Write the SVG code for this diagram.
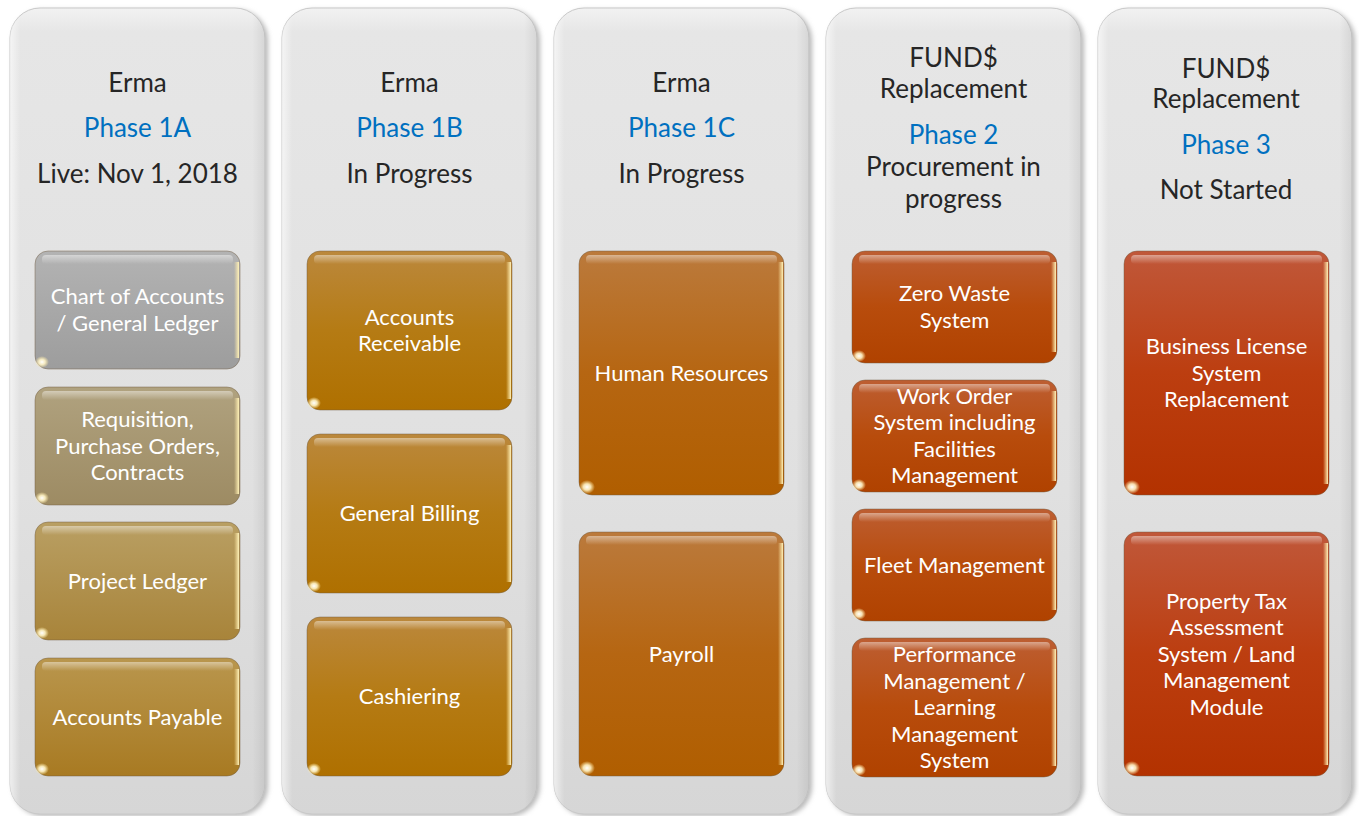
<svg xmlns="http://www.w3.org/2000/svg" width="1359" height="816" viewBox="0 0 1359 816">
<defs>
  <linearGradient id="panelG" x1="0" y1="0" x2="0" y2="1">
    <stop offset="0" stop-color="#f2f2f2"/>
    <stop offset="0.03" stop-color="#e6e6e6"/>
    <stop offset="0.6" stop-color="#e0e0e0"/>
    <stop offset="1" stop-color="#d6d6d6"/>
  </linearGradient>
  <linearGradient id="panelEdge" x1="0" y1="0" x2="1" y2="0">
    <stop offset="0" stop-color="#ffffff" stop-opacity="0.6"/>
    <stop offset="0.04" stop-color="#ffffff" stop-opacity="0"/>
    <stop offset="0.95" stop-color="#000000" stop-opacity="0"/>
    <stop offset="1" stop-color="#000000" stop-opacity="0.07"/>
  </linearGradient>
  <filter id="sh" x="-10%" y="-5%" width="120%" height="110%">
    <feGaussianBlur stdDeviation="2.5"/>
  </filter>
  <linearGradient id="gGrey" x1="0" y1="0" x2="0" y2="1">
    <stop offset="0" stop-color="#b3b3b3"/><stop offset="1" stop-color="#9d9d9d"/>
  </linearGradient>
  <linearGradient id="gTan" x1="0" y1="0" x2="0" y2="1">
    <stop offset="0" stop-color="#b0a27f"/><stop offset="1" stop-color="#9d8b63"/>
  </linearGradient>
  <linearGradient id="gGold1" x1="0" y1="0" x2="0" y2="1">
    <stop offset="0" stop-color="#b99f63"/><stop offset="1" stop-color="#a8843a"/>
  </linearGradient>
  <linearGradient id="gGold2" x1="0" y1="0" x2="0" y2="1">
    <stop offset="0" stop-color="#b9964d"/><stop offset="1" stop-color="#a87a22"/>
  </linearGradient>
  <linearGradient id="gAmber" x1="0" y1="0" x2="0" y2="1">
    <stop offset="0" stop-color="#bb883c"/><stop offset="0.5" stop-color="#b57b14"/><stop offset="1" stop-color="#af7000"/>
  </linearGradient>
  <linearGradient id="gOrange" x1="0" y1="0" x2="0" y2="1">
    <stop offset="0" stop-color="#bb7a3c"/><stop offset="0.5" stop-color="#b66612"/><stop offset="1" stop-color="#b05e00"/>
  </linearGradient>
  <linearGradient id="gRust" x1="0" y1="0" x2="0" y2="1">
    <stop offset="0" stop-color="#bd5e32"/><stop offset="0.5" stop-color="#b84c0c"/><stop offset="1" stop-color="#b04200"/>
  </linearGradient>
  <linearGradient id="gRed" x1="0" y1="0" x2="0" y2="1">
    <stop offset="0" stop-color="#c0583a"/><stop offset="0.5" stop-color="#bc3e10"/><stop offset="1" stop-color="#b33200"/>
  </linearGradient>
  <linearGradient id="topHi" x1="0" y1="0" x2="0" y2="1">
    <stop offset="0" stop-color="#ffffff" stop-opacity="0.45"/>
    <stop offset="1" stop-color="#ffffff" stop-opacity="0"/>
  </linearGradient>
  <linearGradient id="rightHi" x1="0" y1="0" x2="1" y2="0">
    <stop offset="0" stop-color="#ffe9a6" stop-opacity="0"/>
    <stop offset="1" stop-color="#fff2b8" stop-opacity="1"/>
  </linearGradient>
  <radialGradient id="spot">
    <stop offset="0" stop-color="#ffffff" stop-opacity="1"/>
    <stop offset="0.45" stop-color="#fff3c6" stop-opacity="0.9"/>
    <stop offset="1" stop-color="#ffe9a0" stop-opacity="0"/>
  </radialGradient>
</defs>
<style>
  .panel{fill:url(#panelG);stroke:#c9c9c9;stroke-width:1}
  .pshadow{fill:#b8b8b8;filter:url(#sh)}
  .pedge{fill:url(#panelEdge)}
  .box{stroke:#6e5a40;stroke-opacity:0.45;stroke-width:1}
  .thi{fill:url(#topHi)}
  .rhi{fill:url(#rightHi)}
  .spot{fill:url(#spot)}
  .h{font-family:Lato,"Liberation Sans",sans-serif;font-size:26px;fill:#262626;text-anchor:middle}
  .ph{fill:#0070c0}
  .t{font-family:Lato,"Liberation Sans",sans-serif;font-size:22px;fill:#ffffff;text-anchor:middle}
</style>
<rect width="1359" height="816" fill="#ffffff"/>

<!-- Column 1 -->
<g id="col1">
  <rect class="pshadow" x="13" y="10" width="255" height="806" rx="30"/>
  <rect class="panel" x="10" y="8" width="255" height="806" rx="30"/>
  <rect class="pedge" x="10" y="8" width="255" height="806" rx="30"/>
  <text class="h" x="137.5" y="92">Erma</text>
  <text class="h ph" x="137.5" y="137">Phase 1A</text>
  <text class="h" x="137.5" y="183">Live: Nov 1, 2018</text>
</g>
<g id="coa">
  <rect class="box" x="35" y="251" width="205" height="118" rx="13" fill="url(#gGrey)"/>
  <rect class="thi" x="42" y="255" width="191" height="9" rx="4"/>
  <rect class="rhi" x="234" y="262" width="5" height="96"/>
  <ellipse class="spot" cx="42" cy="362" rx="7" ry="6"/>
  <text class="t" x="137.5" y="304">Chart of Accounts</text>
  <text class="t" x="137.5" y="330.5">/ General Ledger</text>
</g>
<g id="req">
  <rect class="box" x="35" y="387" width="205" height="118" rx="13" fill="url(#gTan)"/>
  <rect class="thi" x="42" y="391" width="191" height="9" rx="4"/>
  <rect class="rhi" x="234" y="398" width="5" height="96"/>
  <ellipse class="spot" cx="42" cy="498" rx="7" ry="6"/>
  <text class="t" x="137.5" y="427">Requisition,</text>
  <text class="t" x="137.5" y="453.5">Purchase Orders,</text>
  <text class="t" x="137.5" y="480">Contracts</text>
</g>
<g id="pl">
  <rect class="box" x="35" y="522" width="205" height="118" rx="13" fill="url(#gGold1)"/>
  <rect class="thi" x="42" y="526" width="191" height="9" rx="4"/>
  <rect class="rhi" x="234" y="533" width="5" height="96"/>
  <ellipse class="spot" cx="42" cy="633" rx="7" ry="6"/>
  <text class="t" x="137.5" y="588.5">Project Ledger</text>
</g>
<g id="ap">
  <rect class="box" x="35" y="658" width="205" height="118" rx="13" fill="url(#gGold2)"/>
  <rect class="thi" x="42" y="662" width="191" height="9" rx="4"/>
  <rect class="rhi" x="234" y="669" width="5" height="96"/>
  <ellipse class="spot" cx="42" cy="769" rx="7" ry="6"/>
  <text class="t" x="137.5" y="724.5">Accounts Payable</text>
</g>

<!-- Column 2 -->
<g id="col2">
  <rect class="pshadow" x="285" y="10" width="255" height="806" rx="30"/>
  <rect class="panel" x="282" y="8" width="255" height="806" rx="30"/>
  <rect class="pedge" x="282" y="8" width="255" height="806" rx="30"/>
  <text class="h" x="409.5" y="92">Erma</text>
  <text class="h ph" x="409.5" y="137">Phase 1B</text>
  <text class="h" x="409.5" y="183">In Progress</text>
</g>
<g id="ar">
  <rect class="box" x="307" y="251" width="205" height="159" rx="13" fill="url(#gAmber)"/>
  <rect class="thi" x="314" y="255" width="191" height="9" rx="4"/>
  <rect class="rhi" x="506" y="262" width="5" height="137"/>
  <ellipse class="spot" cx="314" cy="403" rx="7" ry="6"/>
  <text class="t" x="409.5" y="324.5">Accounts</text>
  <text class="t" x="409.5" y="351">Receivable</text>
</g>
<g id="gb">
  <rect class="box" x="307" y="434" width="205" height="159" rx="13" fill="url(#gAmber)"/>
  <rect class="thi" x="314" y="438" width="191" height="9" rx="4"/>
  <rect class="rhi" x="506" y="445" width="5" height="137"/>
  <ellipse class="spot" cx="314" cy="586" rx="7" ry="6"/>
  <text class="t" x="409.5" y="521">General Billing</text>
</g>
<g id="cash">
  <rect class="box" x="307" y="617" width="205" height="159" rx="13" fill="url(#gAmber)"/>
  <rect class="thi" x="314" y="621" width="191" height="9" rx="4"/>
  <rect class="rhi" x="506" y="628" width="5" height="137"/>
  <ellipse class="spot" cx="314" cy="769" rx="7" ry="6"/>
  <text class="t" x="409.5" y="704">Cashiering</text>
</g>

<!-- Column 3 -->
<g id="col3">
  <rect class="pshadow" x="557" y="10" width="255" height="806" rx="30"/>
  <rect class="panel" x="554" y="8" width="255" height="806" rx="30"/>
  <rect class="pedge" x="554" y="8" width="255" height="806" rx="30"/>
  <text class="h" x="681.5" y="92">Erma</text>
  <text class="h ph" x="681.5" y="137">Phase 1C</text>
  <text class="h" x="681.5" y="183">In Progress</text>
</g>
<g id="hr">
  <rect class="box" x="579" y="251" width="205" height="244" rx="13" fill="url(#gOrange)"/>
  <rect class="thi" x="586" y="255" width="191" height="9" rx="4"/>
  <rect class="rhi" x="778" y="262" width="5" height="222"/>
  <ellipse class="spot" cx="587" cy="487" rx="8" ry="7"/>
  <text class="t" x="681.5" y="380.5">Human Resources</text>
</g>
<g id="payroll">
  <rect class="box" x="579" y="532" width="205" height="244" rx="13" fill="url(#gOrange)"/>
  <rect class="thi" x="586" y="536" width="191" height="9" rx="4"/>
  <rect class="rhi" x="778" y="543" width="5" height="222"/>
  <ellipse class="spot" cx="587" cy="768" rx="8" ry="7"/>
  <text class="t" x="681.5" y="661.5">Payroll</text>
</g>

<!-- Column 4 -->
<g id="col4">
  <rect class="pshadow" x="829" y="10" width="255" height="806" rx="30"/>
  <rect class="panel" x="826" y="8" width="255" height="806" rx="30"/>
  <rect class="pedge" x="826" y="8" width="255" height="806" rx="30"/>
  <text class="h" x="953.5" y="67">FUND$</text>
  <text class="h" x="953.5" y="98">Replacement</text>
  <text class="h ph" x="953.5" y="144">Phase 2</text>
  <text class="h" x="953.5" y="176">Procurement in</text>
  <text class="h" x="953.5" y="208">progress</text>
</g>
<g id="zw">
  <rect class="box" x="852" y="251" width="205" height="112" rx="13" fill="url(#gRust)"/>
  <rect class="thi" x="859" y="255" width="191" height="9" rx="4"/>
  <rect class="rhi" x="1051" y="262" width="5" height="90"/>
  <ellipse class="spot" cx="859" cy="356" rx="7" ry="6"/>
  <text class="t" x="954.5" y="301">Zero Waste</text>
  <text class="t" x="954.5" y="327.5">System</text>
</g>
<g id="wo">
  <rect class="box" x="852" y="380" width="205" height="112" rx="13" fill="url(#gRust)"/>
  <rect class="thi" x="859" y="384" width="191" height="9" rx="4"/>
  <rect class="rhi" x="1051" y="391" width="5" height="90"/>
  <ellipse class="spot" cx="859" cy="485" rx="7" ry="6"/>
  <text class="t" x="954.5" y="403.5">Work Order</text>
  <text class="t" x="954.5" y="430">System including</text>
  <text class="t" x="954.5" y="456.5">Facilities</text>
  <text class="t" x="954.5" y="483">Management</text>
</g>
<g id="fleet">
  <rect class="box" x="852" y="509" width="205" height="112" rx="13" fill="url(#gRust)"/>
  <rect class="thi" x="859" y="513" width="191" height="9" rx="4"/>
  <rect class="rhi" x="1051" y="520" width="5" height="90"/>
  <ellipse class="spot" cx="859" cy="614" rx="7" ry="6"/>
  <text class="t" x="954.5" y="572.5">Fleet Management</text>
</g>
<g id="perf">
  <rect class="box" x="852" y="638" width="205" height="139" rx="13" fill="url(#gRust)"/>
  <rect class="thi" x="859" y="642" width="191" height="9" rx="4"/>
  <rect class="rhi" x="1051" y="649" width="5" height="117"/>
  <ellipse class="spot" cx="859" cy="770" rx="7" ry="6"/>
  <text class="t" x="954.5" y="662">Performance</text>
  <text class="t" x="954.5" y="688.5">Management /</text>
  <text class="t" x="954.5" y="715">Learning</text>
  <text class="t" x="954.5" y="741.5">Management</text>
  <text class="t" x="954.5" y="768">System</text>
</g>

<!-- Column 5 -->
<g id="col5">
  <rect class="pshadow" x="1101" y="10" width="254" height="806" rx="30"/>
  <rect class="panel" x="1098" y="8" width="254" height="806" rx="30"/>
  <rect class="pedge" x="1098" y="8" width="254" height="806" rx="30"/>
  <text class="h" x="1226" y="78">FUND$</text>
  <text class="h" x="1226" y="108">Replacement</text>
  <text class="h ph" x="1226" y="154">Phase 3</text>
  <text class="h" x="1226" y="199">Not Started</text>
</g>
<g id="bl">
  <rect class="box" x="1124" y="251" width="205" height="244" rx="13" fill="url(#gRed)"/>
  <rect class="thi" x="1131" y="255" width="191" height="9" rx="4"/>
  <rect class="rhi" x="1323" y="262" width="5" height="222"/>
  <ellipse class="spot" cx="1132" cy="487" rx="8" ry="7"/>
  <text class="t" x="1226.5" y="354">Business License</text>
  <text class="t" x="1226.5" y="380.5">System</text>
  <text class="t" x="1226.5" y="407">Replacement</text>
</g>
<g id="pt">
  <rect class="box" x="1124" y="532" width="205" height="244" rx="13" fill="url(#gRed)"/>
  <rect class="thi" x="1131" y="536" width="191" height="9" rx="4"/>
  <rect class="rhi" x="1323" y="543" width="5" height="222"/>
  <ellipse class="spot" cx="1132" cy="768" rx="8" ry="7"/>
  <text class="t" x="1226.5" y="608.5">Property Tax</text>
  <text class="t" x="1226.5" y="635">Assessment</text>
  <text class="t" x="1226.5" y="661.5">System / Land</text>
  <text class="t" x="1226.5" y="688">Management</text>
  <text class="t" x="1226.5" y="714.5">Module</text>
</g>
</svg>
